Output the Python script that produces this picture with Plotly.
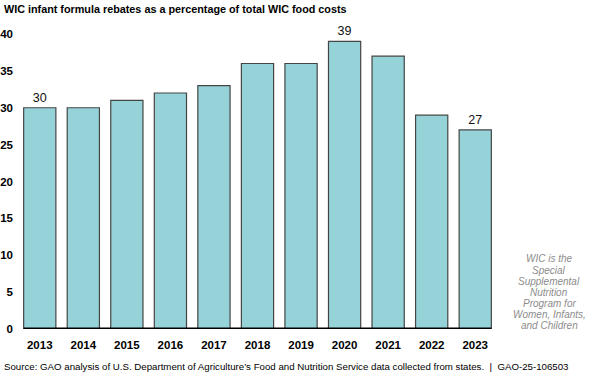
import plotly.graph_objects as go

years = ["2013", "2014", "2015", "2016", "2017", "2018", "2019", "2020", "2021", "2022", "2023"]
values = [30, 30, 31, 32, 33, 36, 36, 39, 37, 29, 27]
labeled_years = ["2013", "2020", "2023"]
y_ticks = [0, 5, 10, 15, 20, 25, 30, 35, 40]
note_lines = ["WIC is the", "Special", "Supplemental", "Nutrition", "Program for",
              "Women, Infants,", "and Children"]

texts = [str(v) if y in labeled_years else "" for y, v in zip(years, values)]

FONT = "Liberation Sans, Arial"

fig = go.Figure(go.Bar(
    x=years, y=values,
    text=texts, textposition="outside", cliponaxis=False,
    textfont=dict(family=FONT, size=12.5, color="#111"),
    marker=dict(color="#96D3D8", line=dict(color="#454545", width=1.2)),
    width=0.74,
))

fig.add_shape(type="line", xref="x", yref="y",
              x0=-0.37, x1=len(years) - 1 + 0.37, y0=0, y1=0,
              line=dict(color="black", width=3))

annotations = [
    dict(text="<b>WIC infant formula rebates as a percentage of total WIC food costs</b>",
         xref="paper", yref="paper", x=0, y=1, xanchor="left", yanchor="middle",
         xshift=-16, yshift=25, showarrow=False, align="left",
         font=dict(family=FONT, size=10.8, color="black")),
    dict(text="Source: GAO analysis of U.S. Department of Agriculture\u2019s Food and Nutrition Service data collected from states.  |  GAO-25-106503",
         xref="paper", yref="paper", x=0, y=0, xanchor="left", yanchor="middle",
         xshift=-16, yshift=-37, showarrow=False, align="left",
         font=dict(family=FONT, size=9.7, color="black")),
]
note_centers = [258, 270, 281, 292, 303, 314, 325]
for line, yc in zip(note_lines, note_centers):
    annotations.append(dict(
        text="<i>" + line + "</i>", xref="paper", yref="paper", x=1, y=0,
        xanchor="center", yanchor="middle", xshift=52, yshift=329 - yc,
        showarrow=False, font=dict(family=FONT, size=10, color="#8c8c8c")))

fig.update_layout(
    width=600, height=378,
    margin=dict(l=18, r=103, t=34, b=49, autoexpand=False),
    plot_bgcolor="white", paper_bgcolor="white",
    showlegend=False,
    font=dict(family=FONT, color="black"),
    xaxis=dict(range=[-0.5, len(years) - 0.5], showgrid=False, showline=False,
               ticks="", automargin=False,
               tickfont=dict(size=11.5, family=FONT, weight="bold"),
               ticklabelstandoff=7),
    yaxis=dict(range=[0, 40], tickvals=y_ticks, showgrid=False, zeroline=False,
               showline=False, ticks="", automargin=False,
               tickfont=dict(size=11.5, family=FONT, weight="bold"),
               ticklabelstandoff=4),
    annotations=annotations,
)

fig.write_html("out.html", config={"displayModeBar": False},
               post_script="document.body.style.margin='0px';")
